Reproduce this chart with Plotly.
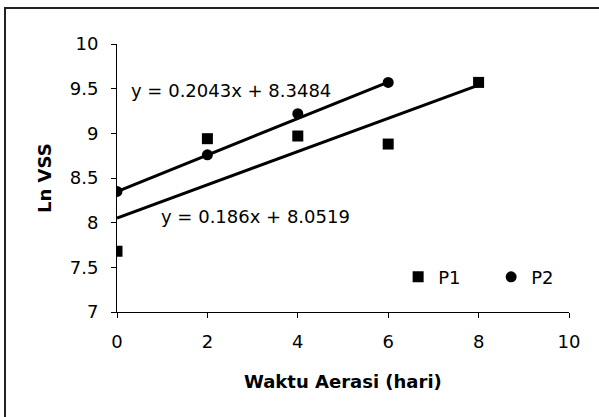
import numpy as np
import plotly.graph_objects as go

# Data
days_p1 = [0, 2, 4, 6, 8]
ln_vss_p1 = [7.68, 8.94, 8.97, 8.88, 9.57]
days_p2 = [0, 2, 4, 6]
ln_vss_p2 = [8.35, 8.76, 9.22, 9.57]

series_names = ["P1", "P2"]
slopes = [0.186, 0.2043]
intercepts = [8.0519, 8.3484]
eq_labels = ["y = 0.186x + 8.0519", "y = 0.2043x + 8.3484"]

x_title = "Waktu Aerasi (hari)"
y_title = "Ln VSS"

FONT = "DejaVu Sans"

fig = go.Figure()

# trendlines
for xs, m, b in [(days_p1, slopes[0], intercepts[0]), (days_p2, slopes[1], intercepts[1])]:
    xx = np.array([min(xs), max(xs)], dtype=float)
    fig.add_trace(go.Scatter(x=xx, y=m * xx + b, mode="lines",
                             line=dict(color="black", width=3),
                             showlegend=False, hoverinfo="skip"))

fig.add_trace(go.Scatter(x=days_p1, y=ln_vss_p1, mode="markers", name=series_names[0],
                         marker=dict(symbol="square", size=11, color="black")))
fig.add_trace(go.Scatter(x=days_p2, y=ln_vss_p2, mode="markers", name=series_names[1],
                         marker=dict(symbol="circle", size=11, color="black")))

W, H = 599, 417
L, R, T, B = 117, 30, 44, 105
pw, ph = W - L - R, H - T - B

def px_to_paper(px, py):
    return (px - L) / pw, (H - B - py) / ph

x0p, y1p = px_to_paper(5, 8)
x1p, y0p = px_to_paper(610, 430)

fig.update_layout(
    width=W, height=H,
    margin=dict(l=L, r=R, t=T, b=B, pad=0),
    paper_bgcolor="white", plot_bgcolor="white",
    font=dict(family=FONT, size=18, color="black"),
    showlegend=True,
    legend=dict(orientation="h", x=0.622, y=0.13, xanchor="left", yanchor="middle",
                font=dict(family=FONT, size=18, color="black"),
                bgcolor="rgba(0,0,0,0)", itemwidth=30,
                entrywidth=48, entrywidthmode="pixels", tracegroupgap=0),
    xaxis=dict(range=[0, 10], tickvals=[0, 2, 4, 6, 8, 10], showgrid=False, zeroline=False,
               showline=True, linecolor="black", linewidth=1, ticks="outside", ticklen=5,
               tickcolor="black", tickwidth=1, ticklabelstandoff=8,
               tickfont=dict(family=FONT, size=18, color="black")),
    yaxis=dict(range=[7, 10], tickvals=[7, 7.5, 8, 8.5, 9, 9.5, 10], showgrid=False, zeroline=False,
               showline=True, linecolor="black", linewidth=1, ticks="outside", ticklen=5,
               tickcolor="black", tickwidth=1, ticklabelstandoff=9,
               tickfont=dict(family=FONT, size=18, color="black")),
    shapes=[
        dict(type="rect", xref="paper", yref="paper", x0=x0p, x1=x1p, y0=y0p, y1=y1p,
             line=dict(color="#222", width=2), fillcolor="rgba(0,0,0,0)", layer="below"),
    ],
)

ax, ay = px_to_paper(343, 381)
fig.add_annotation(text=f"<b>{x_title}</b>", xref="paper", yref="paper", x=ax, y=ay,
                   showarrow=False, xanchor="center", yanchor="middle",
                   font=dict(family=FONT, size=18, color="black"))
bx, by = px_to_paper(44, 178)
fig.add_annotation(text=f"<b>{y_title}</b>", xref="paper", yref="paper", x=bx, y=by,
                   showarrow=False, textangle=-90, xanchor="center", yanchor="middle",
                   font=dict(family=FONT, size=18, color="black"))

fig.add_annotation(text=eq_labels[1], x=2.52, y=9.475, xref="x", yref="y", showarrow=False,
                   xanchor="center", yanchor="middle", font=dict(family=FONT, size=18, color="black"))
fig.add_annotation(text=eq_labels[0], x=3.07, y=8.07, xref="x", yref="y", showarrow=False,
                   xanchor="center", yanchor="middle", font=dict(family=FONT, size=18, color="black"))

fig.write_html(
    "out.html", config={"displayModeBar": False},
    post_script=(
        "document.documentElement.style.margin='0';"
        "document.body.style.margin='0';document.body.style.padding='0';"
        "document.body.style.overflow='hidden';"
        "var d=document.getElementById('{plot_id}');"
        "d.style.position='absolute';d.style.left='0px';d.style.top='0px';"
        "window.scrollTo(0,0);"
    ),
)
